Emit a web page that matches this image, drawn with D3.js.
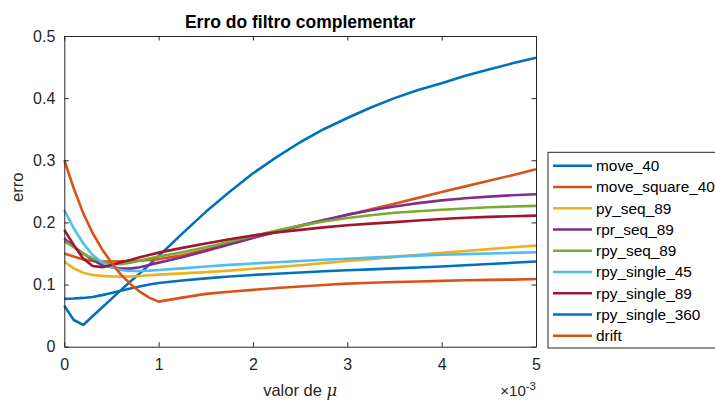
<!DOCTYPE html>
<html>
<head>
<meta charset="utf-8">
<script src="https://cdn.jsdelivr.net/npm/d3@7"></script>
<style>
  html, body { margin: 0; padding: 0; background: #fff; }
  svg { display: block; font-family: "Liberation Sans", Arial, Helvetica, sans-serif; }
</style>
</head>
<body>
<svg id="chart" width="715" height="401"></svg>
<script>
// step size mu, in units of 1e-3
const mu = [0, 0.1, 0.2, 0.3, 0.4, 0.5, 0.6, 0.7, 0.8, 0.9, 1.0,
            1.25, 1.5, 1.75, 2, 2.25, 2.5, 2.75, 3, 3.25, 3.5, 3.75, 4, 4.25, 4.5, 4.75, 5];

const seriesNames = ["move_40", "move_square_40", "py_seq_89", "rpr_seq_89", "rpy_seq_89",
                     "rpy_single_45", "rpy_single_89", "rpy_single_360", "drift"];

const move_40        = [0.066, 0.043, 0.035, 0.049, 0.063, 0.077, 0.091, 0.105, 0.118, 0.132, 0.146,
                        0.182, 0.217, 0.249, 0.279, 0.305, 0.329, 0.350, 0.368, 0.385, 0.400, 0.413, 0.424, 0.436, 0.446, 0.456, 0.465];
const move_square_40 = [0.150, 0.145, 0.1405, 0.138, 0.137, 0.137, 0.1375, 0.138, 0.1385, 0.1395, 0.141,
                        0.147, 0.156, 0.166, 0.176, 0.185, 0.194, 0.203, 0.212, 0.221, 0.230, 0.2395, 0.249, 0.258, 0.267, 0.276, 0.2857];
const py_seq_89      = [0.137, 0.126, 0.119, 0.1155, 0.114, 0.113, 0.1127, 0.113, 0.1138, 0.1149, 0.116,
                        0.118, 0.120, 0.1225, 0.1255, 0.128, 0.131, 0.1345, 0.138, 0.141, 0.1445, 0.148, 0.151, 0.154, 0.157, 0.160, 0.1627];
const rpr_seq_89     = [0.174, 0.161, 0.150, 0.1396, 0.1315, 0.1278, 0.1256, 0.1256, 0.1278, 0.1315, 0.1353,
                        0.144, 0.154, 0.1645, 0.175, 0.185, 0.195, 0.204, 0.2125, 0.2195, 0.2255, 0.231, 0.2355, 0.239, 0.2415, 0.2437, 0.2454];
const rpy_seq_89     = [0.170, 0.160, 0.150, 0.142, 0.137, 0.133, 0.1326, 0.135, 0.1385, 0.142, 0.145,
                        0.152, 0.160, 0.169, 0.178, 0.187, 0.195, 0.2015, 0.207, 0.2115, 0.2155, 0.218, 0.2205, 0.2225, 0.2243, 0.2255, 0.2266];
const rpy_single_45  = [0.220, 0.1906, 0.1664, 0.1476, 0.1353, 0.1278, 0.1235, 0.1218, 0.1218, 0.1224, 0.1235,
                        0.126, 0.129, 0.1317, 0.134, 0.136, 0.138, 0.140, 0.1415, 0.1433, 0.145, 0.1466, 0.148, 0.149, 0.150, 0.151, 0.152];
const rpy_single_89  = [0.188, 0.1637, 0.142, 0.130, 0.128, 0.1315, 0.136, 0.1396, 0.144, 0.1476, 0.1514,
                        0.159, 0.166, 0.173, 0.179, 0.184, 0.188, 0.192, 0.1955, 0.198, 0.2005, 0.203, 0.2056, 0.2075, 0.209, 0.210, 0.211];
const rpy_single_360 = [0.077, 0.0775, 0.0785, 0.080, 0.083, 0.0865, 0.090, 0.0935, 0.097, 0.100, 0.1025,
                        0.1065, 0.110, 0.113, 0.1155, 0.1175, 0.1195, 0.1213, 0.123, 0.1245, 0.126, 0.1275, 0.129, 0.131, 0.133, 0.135, 0.137];
const drift          = [0.300, 0.255, 0.215, 0.183, 0.157, 0.135, 0.116, 0.101, 0.0885, 0.079, 0.0725,
                        0.079, 0.085, 0.0885, 0.0915, 0.0945, 0.097, 0.0993, 0.1015, 0.103, 0.104, 0.105, 0.106, 0.107, 0.1075, 0.108, 0.109];

const xTicks = [0, 1, 2, 3, 4, 5];
const yTicks = [0, 0.1, 0.2, 0.3, 0.4, 0.5];
const yTickLabels = ["0", "0.1", "0.2", "0.3", "0.4", "0.5"];

const seriesValues = [move_40, move_square_40, py_seq_89, rpr_seq_89, rpy_seq_89,
                      rpy_single_45, rpy_single_89, rpy_single_360, drift];
const colors = ["#0072BD", "#D95319", "#EDB120", "#7E2F8E", "#77AC30",
                "#4DBEEE", "#A2142F", "#0072BD", "#D95319"];

const svg = d3.select("#chart");
const plotL = 64.3, plotR = 536, plotT = 36, plotB = 346.7;
const axisColor = "#262626";

const x = d3.scaleLinear().domain([0, 5]).range([plotL, plotR]);
const y = d3.scaleLinear().domain([0, 0.5]).range([plotB, plotT]);

// curves
const line = d3.line().x((d, i) => x(mu[i])).y(d => y(d));
const plot = svg.append("g");
seriesValues.forEach((vals, k) => {
  plot.append("path")
    .attr("d", line(vals))
    .attr("fill", "none")
    .attr("stroke", colors[k])
    .attr("stroke-width", 2.6)
    .attr("stroke-linejoin", "round");
});

// axes with inward ticks on all four sides
const tickLen = 4.5;
const xAxis = svg.append("g").attr("transform", `translate(0,${plotB})`)
  .call(d3.axisBottom(x).tickValues(xTicks).tickFormat(d3.format("d"))
        .tickSizeInner(-tickLen).tickSizeOuter(0).tickPadding(12));
const xAxisTop = svg.append("g").attr("transform", `translate(0,${plotT})`)
  .call(d3.axisTop(x).tickValues(xTicks).tickFormat("").tickSizeInner(-tickLen).tickSizeOuter(0));
const yAxis = svg.append("g").attr("transform", `translate(${plotL},0)`)
  .call(d3.axisLeft(y).tickValues(yTicks).tickFormat((d, i) => yTickLabels[i])
        .tickSizeInner(-tickLen).tickSizeOuter(0).tickPadding(9));
const yAxisRight = svg.append("g").attr("transform", `translate(${plotR},0)`)
  .call(d3.axisRight(y).tickValues(yTicks).tickFormat("").tickSizeInner(-tickLen).tickSizeOuter(0));

[xAxis, xAxisTop, yAxis, yAxisRight].forEach(g => {
  g.selectAll("path.domain").attr("stroke", axisColor).attr("stroke-width", 1);
  g.selectAll(".tick line").attr("stroke", axisColor).attr("stroke-width", 1);
  g.selectAll(".tick text").attr("fill", axisColor)
    .style("font-size", "16px").style("font-family", "'Liberation Sans', Arial, sans-serif");
});
xAxis.selectAll(".tick text").attr("dy", "0.71em");

// title and axis labels
svg.append("text")
  .attr("x", (plotL + plotR) / 2).attr("y", 27.5)
  .attr("text-anchor", "middle")
  .attr("font-weight", "bold").attr("font-size", 17.5).attr("fill", "#000")
  .text("Erro do filtro complementar");

svg.append("text")
  .attr("transform", `translate(23,${(plotT + plotB) / 2 - 4}) rotate(-90)`)
  .attr("text-anchor", "middle")
  .attr("font-size", 16.5).attr("fill", axisColor)
  .text("erro");

const xl = svg.append("text")
  .attr("x", (plotL + plotR) / 2).attr("y", 396)
  .attr("text-anchor", "middle")
  .attr("font-size", 16.5).attr("fill", axisColor);
xl.append("tspan").text("valor de ");
xl.append("tspan").attr("font-style", "italic").attr("font-family", "'DejaVu Serif', serif").text("μ");

// exponent marker
const ex = svg.append("text")
  .attr("x", plotR).attr("y", 396)
  .attr("text-anchor", "end")
  .attr("font-size", 15).attr("fill", axisColor);
ex.append("tspan").text("×10");
ex.append("tspan").attr("dy", -6).attr("font-size", 11.5).text("-3");

// legend
const legX = 548, legY = 152.3, legH = 195.7;
const lg = svg.append("g");
lg.append("rect")
  .attr("x", legX).attr("y", legY).attr("width", 180).attr("height", legH)
  .attr("fill", "#fff").attr("stroke", axisColor).attr("stroke-width", 1);
const rowY = d3.scaleLinear().domain([0, seriesNames.length - 1]).range([165.7, 335.7]);
seriesNames.forEach((name, k) => {
  lg.append("line")
    .attr("x1", 553).attr("x2", 592)
    .attr("y1", rowY(k)).attr("y2", rowY(k))
    .attr("stroke", colors[k]).attr("stroke-width", 2.6);
  lg.append("text")
    .attr("x", 596).attr("y", rowY(k) + 5.3)
    .attr("font-size", 15.4).attr("fill", "#000")
    .text(name);
});
</script>
</body>
</html>
